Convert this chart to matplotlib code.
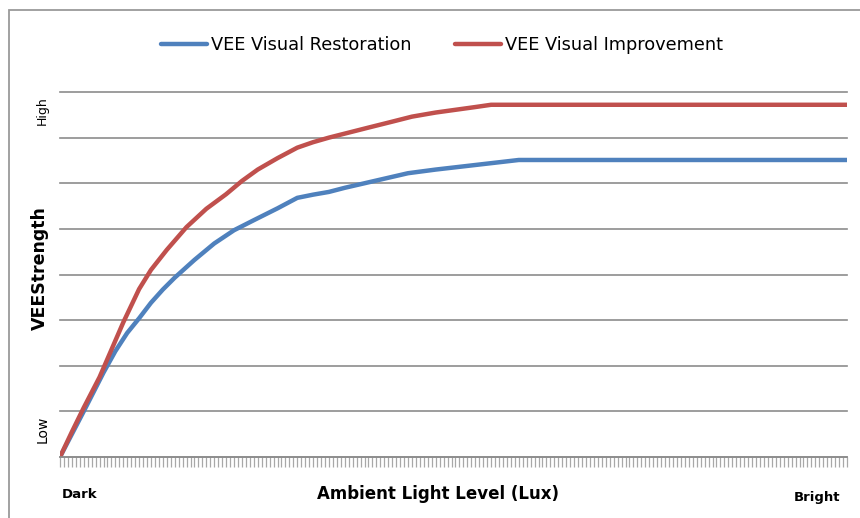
import matplotlib
matplotlib.use("Agg")
import matplotlib.pyplot as plt
from matplotlib.patches import Rectangle

# category index along the ambient light axis (200 categories, 0..199)
n_categories = 200
restoration_idx = [0, 3, 6, 11, 14, 17, 20, 23, 26, 29, 34, 39, 44, 49, 55, 60,
                   64, 68, 72, 77, 83, 88, 95, 102, 109, 116, 199]
restoration = [0.0, 0.5, 1.0, 1.85, 2.32, 2.72, 3.04, 3.38, 3.67, 3.93, 4.32, 4.68,
               4.97, 5.19, 5.45, 5.68, 5.75, 5.81, 5.9, 6.0, 6.12, 6.22, 6.3, 6.37,
               6.44, 6.51, 6.51]
improvement_idx = [0, 3, 6, 10, 12, 16, 20, 23, 27, 32, 37, 42, 46, 50, 55, 60,
                   64, 68, 73, 78, 84, 89, 95, 100, 105, 109, 199]
improvement = [0.0, 0.55, 1.08, 1.75, 2.15, 2.95, 3.68, 4.1, 4.54, 5.04, 5.44, 5.76,
               6.05, 6.3, 6.55, 6.78, 6.9, 7.0, 7.11, 7.22, 7.35, 7.46, 7.55, 7.61,
               7.67, 7.72, 7.72]
series_names = ["VEE Visual Restoration", "VEE Visual Improvement"]

blue = "#4F81BD"
red = "#C0504D"
grid_c = "#8C8C8C"

fig = plt.figure(figsize=(8.6, 5.18), dpi=100)
ax = fig.add_axes([60 / 860, 61 / 518, 787 / 860, 365 / 518])

ax.plot(restoration_idx, restoration, color=blue, lw=3.2, solid_capstyle="round",
        solid_joinstyle="round", label=series_names[0])
ax.plot(improvement_idx, improvement, color=red, lw=3.2, solid_capstyle="round",
        solid_joinstyle="round", label=series_names[1])

ax.set_xlim(0, n_categories - 1)
ax.set_ylim(0, 8)
ax.set_yticks(range(0, 9))
ax.yaxis.grid(True, color=grid_c, lw=1.2)
for gl in ax.get_ygridlines():
    gl.set_clip_on(False)
ax.set_axisbelow(True)
ax.tick_params(axis="y", left=False, labelleft=False)
ax.set_xticks(range(0, n_categories))
ax.tick_params(axis="x", direction="out", length=7, width=0.9, color="#A8A8A8",
               labelbottom=False)
for s in ["left", "right", "top"]:
    ax.spines[s].set_visible(False)
ax.spines["bottom"].set_color(grid_c)
ax.spines["bottom"].set_linewidth(1.2)

# axis texts
ax.text(-0.022, 0.6, "Low", transform=ax.get_yaxis_transform(), rotation=90,
        ha="center", va="center", fontsize=10)
ax.text(-0.022, 7.6, "High", transform=ax.get_yaxis_transform(), rotation=90,
        ha="center", va="center", fontsize=9)
fig.text(40 / 860, 1 - 268 / 518, "VEEStrength", rotation=90, ha="center", va="center",
         fontsize=12.5, fontweight="bold")
fig.text(438 / 860, 1 - 494 / 518, "Ambient Light Level (Lux)", ha="center", va="center",
         fontsize=12, fontweight="bold")
fig.text(62 / 860, 1 - 494 / 518, "Dark", ha="left", va="center", fontsize=9.5, fontweight="bold")
fig.text(840 / 860, 1 - 497 / 518, "Bright", ha="right", va="center", fontsize=9.5, fontweight="bold")

ax.legend(loc="center", bbox_to_anchor=(442 / 860, 1 - 45 / 518), bbox_transform=fig.transFigure,
          ncol=2, frameon=False, fontsize=12.8, handlelength=2.6, handletextpad=0.25,
          columnspacing=2.4, borderpad=0)

# outer chart frame
fig.patches.append(Rectangle((9 / 860, -0.1), 1.1, 1 - 10 / 518 + 0.1, transform=fig.transFigure,
                             fill=False, edgecolor="#9A9A9A", lw=1.3))

fig.savefig("out.png", dpi=100)
